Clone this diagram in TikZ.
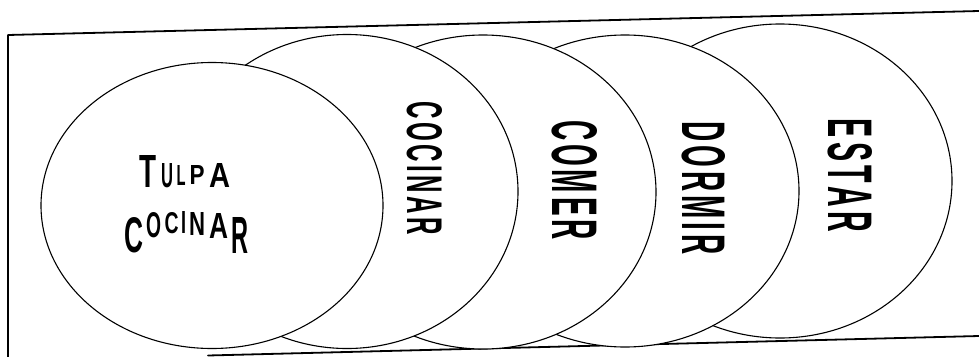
\documentclass[tikz,border=0pt]{standalone}
\usepackage{fontspec}
\setsansfont{Liberation Sans}
\usepackage{graphicx}
\newcommand{\lgap}{\kern0.14em}

\begin{document}
\begin{tikzpicture}[x=1pt, y=-1pt, line width=1.1pt, line cap=round, line join=round,
    disc/.style={draw=black, fill=white},
    framep/.style={line width=1.8pt},
    vlabel/.style={anchor=center, inner sep=0pt, rotate=-90, font=\sffamily\bfseries},
    wletter/.style={anchor=north, inner sep=0pt, font=\sffamily\bfseries}]

  %% ════ 外框（斜的上下边）════
  \draw[framep] (8,357) -- (8,35) -- (979,11);
  \draw[framep] (208,355.5) -- (979,336);

  %% ════ 椭圆（从后往前画，白色填充盖住后面的）════
  \filldraw[disc] (780,181) ellipse (172 and 157);   % ESTAR
  \filldraw[disc] (625,191) ellipse (174 and 156);   % DORMIR
  \filldraw[disc] (483,192) ellipse (173 and 157);   % COMER
  \filldraw[disc] (347,191.5) ellipse (171 and 157); % COCINAR
  \filldraw[disc] (212,205.5) ellipse (171 and 143); % TULPA

  %% ════ 竖排标签（字母间留空）════
  \node[vlabel] (cocinar) at (424.5,168.5) {\resizebox{133pt}{35pt}{C\lgap O\lgap C\lgap I\lgap N\lgap A\lgap R}};
  \node[vlabel] (comer)   at (574.5,180.0) {\resizebox{120pt}{45pt}{C\lgap O\lgap M\lgap E\lgap R}};
  \node[vlabel] (dormir)  at (703.3,188.3) {\resizebox{133pt}{43pt}{D\lgap O\lgap R\lgap M\lgap I\lgap R}};
  \node[vlabel] (estar)   at (850.0,175.5) {\resizebox{113pt}{44pt}{E\lgap S\lgap T\lgap A\lgap R}};

  %% ════ 波浪字 TULPA / COCINAR（逐字母给宽高）════
  \node[wletter] (tT) at (147.5,155) {\resizebox{17pt}{32pt}{T}};
  \node[wletter] (tU) at (167.5,163) {\resizebox{12pt}{24pt}{U}};
  \node[wletter] (tL) at (181.0,165) {\resizebox{9pt}{20pt}{L}};
  \node[wletter] (tP) at (197.0,165) {\resizebox{15pt}{19pt}{P}};
  \node[wletter] (tA) at (220.0,163) {\resizebox{21pt}{24pt}{A}};

  \node[wletter] (cC1) at (133.5,217) {\resizebox{19pt}{35pt}{C}};
  \node[wletter] (cO)  at (154.0,212) {\resizebox{15pt}{25pt}{O}};
  \node[wletter] (cC2) at (171.5,212) {\resizebox{14pt}{21pt}{C}};
  \node[wletter] (cI)  at (183.5,211) {\resizebox{5pt}{22pt}{I}};
  \node[wletter] (cN)  at (197.0,212) {\resizebox{16pt}{23pt}{N}};
  \node[wletter] (cA)  at (218.5,213) {\resizebox{19pt}{25pt}{A}};
  \node[wletter] (cR)  at (240.0,217) {\resizebox{17pt}{36pt}{R}};

  % 钉死画布
  \pgfresetboundingbox
  \path[use as bounding box] (0,0) rectangle (979,356);
\end{tikzpicture}
\end{document}
